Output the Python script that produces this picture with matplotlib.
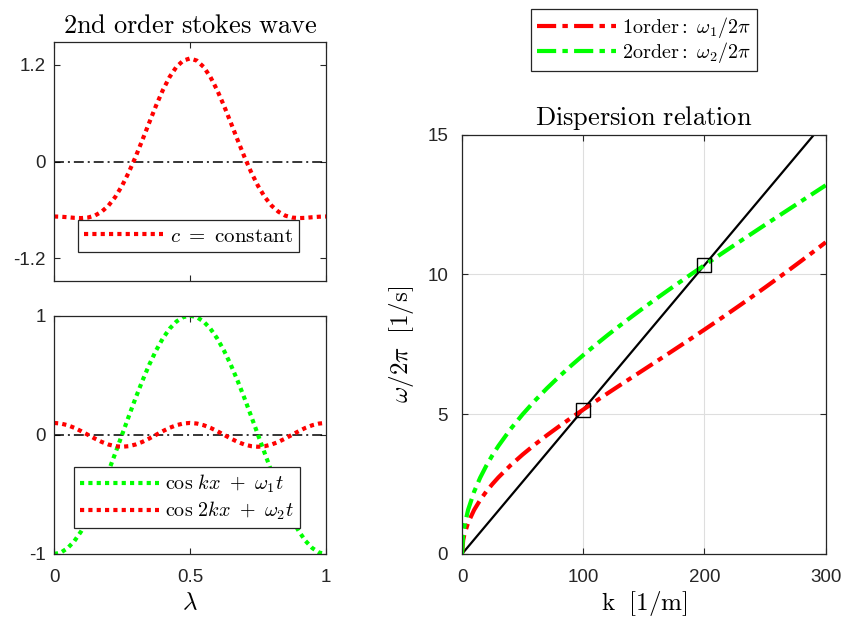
import matplotlib
matplotlib.use('Agg')
import matplotlib.pyplot as plt

plt.rcParams['mathtext.fontset'] = 'cm'
plt.rcParams['font.family'] = ['Liberation Sans', 'DejaVu Sans']
plt.rcParams['axes.unicode_minus'] = False

# ---------------- data ----------------
lam = [0.000, 0.025, 0.050, 0.075, 0.100, 0.125, 0.150, 0.175, 0.200, 0.225,
       0.250, 0.275, 0.300, 0.325, 0.350, 0.375, 0.400, 0.425, 0.450, 0.475,
       0.500, 0.525, 0.550, 0.575, 0.600, 0.625, 0.650, 0.675, 0.700, 0.725,
       0.750, 0.775, 0.800, 0.825, 0.850, 0.875, 0.900, 0.925, 0.950, 0.975,
       1.000]

eta_stokes = [-0.680, -0.683, -0.689, -0.697, -0.700, -0.693, -0.669, -0.621, -0.546, -0.439,
              -0.300, -0.132, 0.060, 0.269, 0.483, 0.693, 0.886, 1.050, 1.175, 1.253,
              1.280, 1.253, 1.175, 1.050, 0.886, 0.693, 0.483, 0.269, 0.060, -0.132,
              -0.300, -0.439, -0.546, -0.621, -0.669, -0.693, -0.700, -0.697, -0.689, -0.683,
              -0.680]

eta_first = [-1.000, -0.988, -0.951, -0.891, -0.809, -0.707, -0.588, -0.454, -0.309, -0.156,
             0.000, 0.156, 0.309, 0.454, 0.588, 0.707, 0.809, 0.891, 0.951, 0.988,
             1.000, 0.988, 0.951, 0.891, 0.809, 0.707, 0.588, 0.454, 0.309, 0.156,
             0.000, -0.156, -0.309, -0.454, -0.588, -0.707, -0.809, -0.891, -0.951, -0.988,
             -1.000]

eta_second = [0.100, 0.095, 0.081, 0.059, 0.031, 0.000, -0.031, -0.059, -0.081, -0.095,
              -0.100, -0.095, -0.081, -0.059, -0.031, 0.000, 0.031, 0.059, 0.081, 0.095,
              0.100, 0.095, 0.081, 0.059, 0.031, 0.000, -0.031, -0.059, -0.081, -0.095,
              -0.100, -0.095, -0.081, -0.059, -0.031, 0.000, 0.031, 0.059, 0.081, 0.095,
              0.100]

k_vals = [0, 1, 2, 5, 10, 15, 20, 25, 30, 40, 50, 60, 70, 80, 90, 100, 110, 120,
          130, 140, 150, 160, 170, 180, 190, 200, 210, 220, 230, 240, 250, 260,
          270, 280, 290, 300]

f1_vals = [0.000, 0.499, 0.705, 1.115, 1.577, 1.932, 2.233, 2.498, 2.740, 3.171,
           3.557, 3.913, 4.246, 4.563, 4.869, 5.166, 5.458, 5.745, 6.030, 6.313,
           6.595, 6.878, 7.163, 7.449, 7.737, 8.028, 8.322, 8.620, 8.921, 9.227,
           9.536, 9.850, 10.168, 10.491, 10.818, 11.151]

f2_vals = [0.000, 0.705, 0.997, 1.576, 2.230, 2.731, 3.154, 3.527, 3.864, 4.466,
           4.996, 5.480, 5.925, 6.342, 6.738, 7.114, 7.476, 7.826, 8.163, 8.492,
           8.813, 9.126, 9.435, 9.738, 10.038, 10.332, 10.626, 10.916, 11.204, 11.490,
           11.776, 12.060, 12.343, 12.626, 12.908, 13.190]

line_k = [0, 300]
line_f = [0.0, 15.5]

cross_k = [100, 200]
cross_f = [5.166, 10.332]

# ---------------- styling helpers ----------------
W, H = 847, 623
fig = plt.figure(figsize=(W / 100, H / 100), dpi=100)

spine_c = (0.15, 0.15, 0.15)
tick_fs = 13.5
DOT = (0, (1, 1))
ZERO_DD = (0, (6.5, 2.6, 1.3, 2.6))
THICK_DD = (0, (4.6, 1.5, 1.3, 1.5))


def style_axes(ax, ypad):
    for s in ax.spines.values():
        s.set_color(spine_c)
        s.set_linewidth(0.9)
    ax.tick_params(direction='in', length=4, width=0.8, colors=spine_c,
                   labelsize=tick_fs, top=True, right=True)
    ax.tick_params(axis='x', pad=11)
    ax.tick_params(axis='y', pad=ypad)


def axrect(x0, y0, x1, y1):
    return [x0 / W, 1 - y1 / H, (x1 - x0) / W, (y1 - y0) / H]

# ---------------- top-left ----------------
ax1 = fig.add_axes(axrect(54, 42.3, 326, 281))
ax1.axhline(0, color='k', lw=1.1, ls=ZERO_DD)
l1, = ax1.plot(lam, eta_stokes, color='red', lw=3, ls=DOT,
               label=r'$c\ =\ \mathrm{constant}$')
ax1.set_xlim(0, 1)
ax1.set_ylim(-1.48, 1.48)
ax1.set_yticks([-1.2, 0, 1.2])
ax1.set_yticklabels(['-1.2', '0', '1.2'])
ax1.set_xticks([0, 0.5, 1])
ax1.set_xticklabels([])
style_axes(ax1, 6)
ax1.set_title(r'$\mathrm{2nd\ order\ stokes\ wave}$', fontsize=19, pad=7)
leg1 = ax1.legend(handles=[l1], loc='center',
                  bbox_to_anchor=((188.5 - 54) / 272, (281 - 236) / (281 - 42.3)),
                  fontsize=15, handlelength=3.8, handletextpad=0.3,
                  fancybox=False, framealpha=1, borderpad=0.3,
                  borderaxespad=0)
leg1.get_frame().set_edgecolor(spine_c)
leg1.get_frame().set_linewidth(0.9)

# ---------------- bottom-left ----------------
ax2 = fig.add_axes(axrect(54, 315.7, 326, 554))
ax2.axhline(0, color='k', lw=1.1, ls=ZERO_DD)
g1, = ax2.plot(lam, eta_first, color=(0, 1, 0), lw=3, ls=DOT,
               label=r'$\cos\, kx\ +\ \omega_1 t$')
r2, = ax2.plot(lam, eta_second, color='red', lw=3, ls=DOT,
               label=r'$\cos\, 2kx\ +\ \omega_2 t$')
ax2.set_xlim(0, 1)
ax2.set_ylim(-1, 1)
ax2.set_yticks([-1, 0, 1])
ax2.set_yticklabels(['-1', '0', '1'])
ax2.set_xticks([0, 0.5, 1])
ax2.set_xticklabels(['0', '0.5', '1'])
style_axes(ax2, 6)
ax2.set_xlabel(r'$\lambda$', fontsize=18, labelpad=3)
leg2 = ax2.legend(handles=[g1, r2], loc='center',
                  bbox_to_anchor=((187 - 54) / 272, (554 - 497.5) / (554 - 315.7)),
                  fontsize=14.5, handlelength=3.9, handletextpad=0.3,
                  fancybox=False, framealpha=1, borderpad=0.3,
                  labelspacing=0.25, borderaxespad=0)
leg2.get_frame().set_edgecolor(spine_c)
leg2.get_frame().set_linewidth(0.9)

# ---------------- right: dispersion ----------------
ax3 = fig.add_axes(axrect(462, 134.7, 825.7, 554))
ax3.grid(True, color=(0.87, 0.87, 0.87), lw=0.8)
ax3.set_axisbelow(True)
ax3.plot(line_k, line_f, color='k', lw=1.6)
h1, = ax3.plot(k_vals, f1_vals, color='red', lw=3, ls=THICK_DD,
               label=r'$\mathrm{1order:}\ \omega_1/2\pi$')
h2, = ax3.plot(k_vals, f2_vals, color=(0, 1, 0), lw=3, ls=THICK_DD,
               label=r'$\mathrm{2order:}\ \omega_2/2\pi$')
ax3.plot(cross_k, cross_f, ls='none', marker='s', ms=10, mfc='none',
         mec='k', mew=1.0)
ax3.set_xlim(0, 300)
ax3.set_ylim(0, 15)
ax3.set_xticks([0, 100, 200, 300])
ax3.set_yticks([0, 5, 10, 15])
style_axes(ax3, 10)
ax3.set_title(r'$\mathrm{Dispersion\ relation}$', fontsize=19, pad=7)
ax3.set_xlabel(r'$\mathrm{k}\ \ [1/\mathrm{m}]$', fontsize=18, labelpad=2)
ax3.set_ylabel(r'$\omega/2\pi\ \ [1/\mathrm{s}]$', fontsize=18, labelpad=8)

leg3 = fig.legend(handles=[h1, h2], loc='center',
                  bbox_to_anchor=(644 / W, 1 - 40 / H),
                  fontsize=14.5, handlelength=3.9, handletextpad=0.3,
                  fancybox=False, framealpha=1, borderpad=0.3,
                  labelspacing=0.0)
leg3.get_frame().set_edgecolor(spine_c)
leg3.get_frame().set_linewidth(0.9)

fig.savefig('out.png', dpi=100)
